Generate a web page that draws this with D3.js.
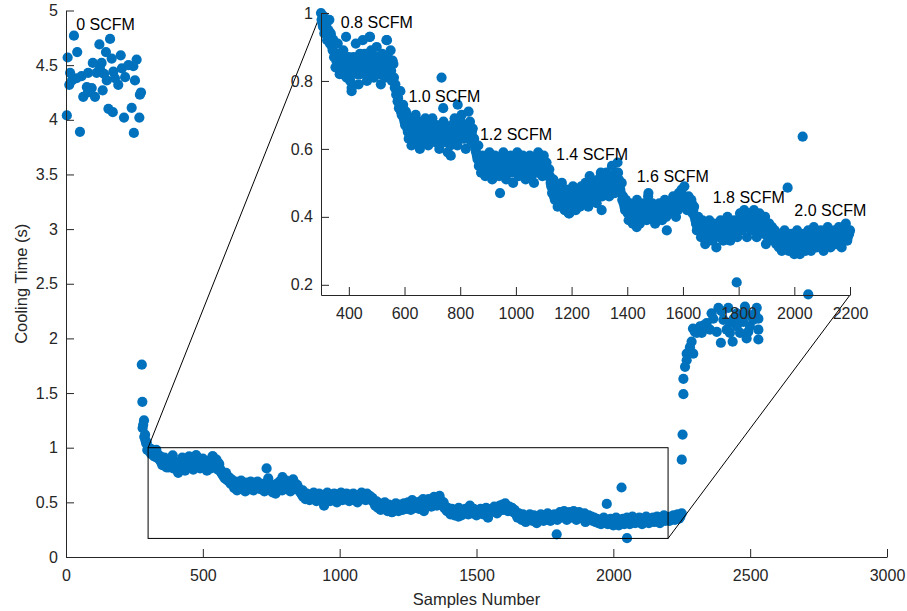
<!DOCTYPE html>
<html>
<head>
<meta charset="utf-8">
<script src="https://cdn.jsdelivr.net/npm/d3@7"></script>
<style>
    body { margin: 0; background: #fff; }
    svg text { font-family: "Liberation Sans", Arial, Helvetica, sans-serif; }
    .axis path, .axis line { stroke: #262626; stroke-width: 1; }
    .axis text { fill: #262626; font-size: 16px; }
    .label { fill: #262626; font-size: 16.5px; }
    .note { fill: #000; font-size: 16px; }
</style>
</head>
<body>
<svg id="chart" width="907" height="611"></svg>
<script>
// 0 SCFM (compressor off) samples
var offX = [29, 6, 41, 122, 161, 146, 167, 200, 258, 98, 130, 15, 12, 39, 57, 81, 112, 139, 173, 204,
            228, 246, 216, 252, 191, 76, 94, 63, 106, 134, 270, 155, 171, 240, 212, 268, 3, 51, 248, 179,
            149, 22, 124, 80, 274];
var offY = [4.77, 4.57, 4.62, 4.69, 4.74, 4.62, 4.56, 4.59, 4.55, 4.52, 4.52, 4.43, 4.32, 4.38, 4.40, 4.43, 4.43, 4.42, 4.44, 4.47,
            4.50, 4.49, 4.39, 4.36, 4.32, 4.30, 4.29, 4.21, 4.21, 4.27, 4.23, 4.10, 4.07, 4.11, 4.02, 4.02, 4.04, 3.89, 3.88, 4.38,
            4.36, 4.36, 4.47, 4.25, 4.25];

// air switched on
var rampX = [277, 279, 280, 282, 285, 286, 289, 290, 293, 295, 297];
var rampY = [1.76, 1.42, 1.18, 1.21, 1.25, 1.10, 1.12, 1.07, 1.04, 1.05, 0.98];

// sample 300 .. 2250, every 5th sample
var bandStart = 300;
var bandStep = 5;
var bandY = [
    1.00, 0.97, 0.99, 0.95, 0.97, 0.93, 0.98, 0.94, 0.90, 0.92, // 300
    0.88, 0.86, 0.91, 0.84, 0.87, 0.82, 0.89, 0.85, 0.93, 0.83, // 350
    0.87, 0.80, 0.78, 0.86, 0.84, 0.91, 0.82, 0.79, 0.88, 0.85, // 400
    0.92, 0.83, 0.87, 0.80, 0.85, 0.93, 0.89, 0.84, 0.81, 0.87, // 450
    0.90, 0.83, 0.86, 0.79, 0.88, 0.84, 0.81, 0.92, 0.87, 0.83, // 500
    0.89, 0.80, 0.85, 0.78, 0.76, 0.74, 0.72, 0.77, 0.70, 0.73, // 550
    0.68, 0.71, 0.66, 0.63, 0.69, 0.61, 0.67, 0.64, 0.70, 0.62, // 600
    0.66, 0.60, 0.68, 0.64, 0.62, 0.69, 0.65, 0.61, 0.67, 0.63, // 650
    0.69, 0.65, 0.62, 0.67, 0.64, 0.60, 0.66, 0.63, 0.68, 0.62, // 700
    0.65, 0.59, 0.64, 0.61, 0.67, 0.63, 0.69, 0.65, 0.61, 0.68, // 750
    0.66, 0.70, 0.63, 0.67, 0.60, 0.65, 0.71, 0.68, 0.62, 0.66, // 800
    0.63, 0.60, 0.58, 0.61, 0.56, 0.53, 0.58, 0.55, 0.52, 0.57, // 850
    0.54, 0.59, 0.56, 0.51, 0.55, 0.58, 0.53, 0.56, 0.52, 0.57, // 900
    0.54, 0.59, 0.55, 0.51, 0.56, 0.53, 0.58, 0.55, 0.50, 0.57, // 950
    0.54, 0.59, 0.52, 0.56, 0.53, 0.58, 0.55, 0.51, 0.57, 0.54, // 1000
    0.58, 0.52, 0.55, 0.50, 0.56, 0.53, 0.59, 0.55, 0.57, 0.52, // 1050
    0.58, 0.54, 0.56, 0.52, 0.54, 0.50, 0.47, 0.51, 0.45, 0.49, // 1100
    0.43, 0.47, 0.44, 0.50, 0.46, 0.42, 0.48, 0.45, 0.41, 0.47, // 1150
    0.44, 0.49, 0.45, 0.42, 0.48, 0.46, 0.43, 0.49, 0.47, 0.44, // 1200
    0.50, 0.46, 0.43, 0.52, 0.48, 0.45, 0.50, 0.47, 0.44, 0.51, // 1250
    0.48, 0.53, 0.46, 0.50, 0.47, 0.53, 0.49, 0.46, 0.52, 0.55, // 1300
    0.50, 0.47, 0.53, 0.56, 0.51, 0.48, 0.50, 0.46, 0.43, 0.45, // 1350
    0.42, 0.39, 0.44, 0.41, 0.38, 0.43, 0.40, 0.45, 0.41, 0.38, // 1400
    0.43, 0.40, 0.44, 0.41, 0.39, 0.46, 0.42, 0.40, 0.44, 0.41, // 1450
    0.38, 0.43, 0.40, 0.44, 0.41, 0.39, 0.42, 0.45, 0.40, 0.43, // 1500
    0.41, 0.44, 0.42, 0.46, 0.43, 0.40, 0.45, 0.47, 0.43, 0.48, // 1550
    0.44, 0.49, 0.45, 0.42, 0.46, 0.43, 0.45, 0.41, 0.43, 0.39, // 1600
    0.36, 0.40, 0.37, 0.34, 0.39, 0.35, 0.32, 0.37, 0.34, 0.39, // 1650
    0.36, 0.33, 0.38, 0.35, 0.31, 0.37, 0.34, 0.39, 0.36, 0.33, // 1700
    0.38, 0.35, 0.40, 0.36, 0.33, 0.38, 0.35, 0.39, 0.36, 0.34, // 1750
    0.38, 0.41, 0.36, 0.39, 0.42, 0.37, 0.34, 0.39, 0.41, 0.36, // 1800
    0.38, 0.42, 0.37, 0.34, 0.39, 0.41, 0.36, 0.38, 0.35, 0.40, // 1850
    0.37, 0.34, 0.38, 0.35, 0.37, 0.33, 0.36, 0.32, 0.35, 0.31, // 1900
    0.34, 0.30, 0.33, 0.36, 0.31, 0.34, 0.30, 0.32, 0.35, 0.31, // 1950
    0.29, 0.33, 0.36, 0.31, 0.29, 0.34, 0.32, 0.35, 0.30, 0.33, // 2000
    0.36, 0.32, 0.30, 0.34, 0.37, 0.33, 0.31, 0.35, 0.32, 0.36, // 2050
    0.33, 0.30, 0.35, 0.32, 0.37, 0.34, 0.31, 0.35, 0.33, 0.36, // 2100
    0.32, 0.35, 0.37, 0.33, 0.31, 0.36, 0.34, 0.38, 0.33, 0.35, // 2150
    0.36, 0.33, 0.37, 0.35, 0.38, 0.34, 0.36, 0.39, 0.35, 0.37, // 2200
    0.40
];

// in-between samples 302 .. 2242, every 5th sample
var band2Start = 302;
var band2Y = [
    0.98, 0.96, 0.94, 0.96, 0.92, 0.95, 0.91, 0.93, 0.89, 0.87, // 302
    0.84, 0.88, 0.85, 0.82, 0.86, 0.83, 0.87, 0.84, 0.81, 0.86, // 352
    0.83, 0.85, 0.82, 0.87, 0.84, 0.86, 0.83, 0.85, 0.82, 0.87, // 402
    0.85, 0.88, 0.84, 0.86, 0.82, 0.87, 0.85, 0.83, 0.86, 0.84, // 452
    0.87, 0.85, 0.82, 0.86, 0.84, 0.87, 0.85, 0.83, 0.86, 0.84, // 502
    0.83, 0.86, 0.81, 0.79, 0.77, 0.75, 0.73, 0.71, 0.72, 0.69, // 552
    0.67, 0.70, 0.65, 0.68, 0.64, 0.66, 0.63, 0.67, 0.65, 0.68, // 602
    0.64, 0.66, 0.63, 0.67, 0.65, 0.62, 0.66, 0.64, 0.68, 0.65, // 652
    0.63, 0.67, 0.65, 0.62, 0.66, 0.64, 0.67, 0.63, 0.65, 0.66, // 702
    0.62, 0.66, 0.64, 0.63, 0.66, 0.65, 0.63, 0.67, 0.64, 0.66, // 752
    0.68, 0.64, 0.66, 0.63, 0.67, 0.64, 0.66, 0.64, 0.65, 0.63, // 802
    0.61, 0.59, 0.57, 0.55, 0.57, 0.55, 0.56, 0.54, 0.56, 0.55, // 852
    0.57, 0.55, 0.53, 0.56, 0.54, 0.56, 0.55, 0.53, 0.55, 0.54, // 902
    0.56, 0.55, 0.53, 0.57, 0.54, 0.55, 0.56, 0.53, 0.55, 0.54, // 952
    0.56, 0.55, 0.54, 0.57, 0.55, 0.56, 0.53, 0.55, 0.54, 0.56, // 1002
    0.55, 0.54, 0.53, 0.55, 0.54, 0.57, 0.53, 0.56, 0.54, 0.55, // 1052
    0.56, 0.55, 0.53, 0.54, 0.52, 0.49, 0.48, 0.46, 0.47, 0.45, // 1102
    0.46, 0.45, 0.47, 0.44, 0.46, 0.45, 0.43, 0.46, 0.44, 0.45, // 1152
    0.46, 0.44, 0.47, 0.45, 0.44, 0.46, 0.45, 0.47, 0.45, 0.46, // 1202
    0.47, 0.45, 0.48, 0.46, 0.47, 0.48, 0.46, 0.49, 0.47, 0.48, // 1252
    0.50, 0.48, 0.49, 0.51, 0.49, 0.50, 0.48, 0.51, 0.50, 0.52, // 1302
    0.49, 0.51, 0.50, 0.53, 0.49, 0.47, 0.45, 0.44, 0.42, 0.43, // 1352
    0.41, 0.42, 0.40, 0.43, 0.41, 0.42, 0.40, 0.42, 0.43, 0.41, // 1402
    0.42, 0.41, 0.43, 0.42, 0.40, 0.42, 0.41, 0.43, 0.42, 0.40, // 1452
    0.41, 0.42, 0.43, 0.41, 0.42, 0.41, 0.43, 0.42, 0.41, 0.42, // 1502
    0.43, 0.42, 0.44, 0.42, 0.43, 0.44, 0.42, 0.44, 0.45, 0.43, // 1552
    0.46, 0.44, 0.43, 0.45, 0.44, 0.42, 0.44, 0.42, 0.40, 0.38, // 1602
    0.37, 0.38, 0.36, 0.35, 0.37, 0.36, 0.34, 0.36, 0.35, 0.37, // 1652
    0.35, 0.36, 0.34, 0.36, 0.35, 0.37, 0.36, 0.35, 0.37, 0.35, // 1702
    0.36, 0.37, 0.35, 0.37, 0.36, 0.36, 0.37, 0.36, 0.38, 0.37, // 1752
    0.39, 0.37, 0.38, 0.40, 0.38, 0.37, 0.39, 0.38, 0.37, 0.39, // 1802
    0.40, 0.38, 0.36, 0.38, 0.39, 0.37, 0.38, 0.36, 0.37, 0.36, // 1852
    0.35, 0.36, 0.37, 0.35, 0.34, 0.35, 0.34, 0.33, 0.33, 0.32, // 1902
    0.33, 0.32, 0.34, 0.33, 0.32, 0.33, 0.31, 0.33, 0.32, 0.33, // 1952
    0.31, 0.32, 0.34, 0.33, 0.31, 0.32, 0.33, 0.34, 0.32, 0.33, // 2002
    0.34, 0.33, 0.32, 0.34, 0.35, 0.33, 0.34, 0.33, 0.34, 0.35, // 2052
    0.34, 0.33, 0.35, 0.34, 0.33, 0.35, 0.34, 0.33, 0.35, 0.34, // 2102
    0.33, 0.35, 0.34, 0.33, 0.35, 0.34, 0.36, 0.35, 0.34, 0.35, // 2152
    0.35, 0.34, 0.36, 0.35, 0.37, 0.36, 0.35, 0.37, 0.36        // 2202
];

// stray readings
var strayX = [410, 476, 537, 733, 739, 791, 766, 943, 1192, 1308, 1434, 1476, 1542, 1793, 1898, 1976, 2030, 2050];
var strayY = [0.77, 0.93, 0.92, 0.81, 0.72, 0.73, 0.58, 0.47, 0.41, 0.42, 0.37, 0.47, 0.36, 0.207, 0.32, 0.486, 0.636, 0.172];

// air switched off again
var riseX = [2250, 2253, 2256, 2256, 2262, 2268, 2268, 2280, 2292, 2286, 2298, 2291, 2317, 2341, 2365, 2384, 2420, 2481,
             2524, 2530, 2530, 2530, 2487, 2436, 2393, 2378, 2414, 2451, 2475, 2499, 2511, 2493, 2463, 2426, 2353, 2323,
             2305, 2451, 2499, 2359, 2518, 2463, 2402, 2426, 2481, 2330, 2440, 2395];
var riseY = [0.89, 1.12, 1.49, 1.63, 1.74, 1.80, 1.86, 1.92, 1.86, 1.97, 2.06, 2.09, 2.11, 2.14, 2.18, 2.28, 2.28, 2.29,
             2.28, 2.18, 2.08, 1.99, 2.00, 1.97, 1.96, 2.06, 2.08, 2.11, 2.15, 2.11, 2.17, 2.06, 2.05, 2.05, 2.08, 2.05,
             2.05, 2.23, 2.21, 2.23, 2.23, 2.17, 2.17, 2.14, 2.23, 2.12, 2.18, 2.25];

var mainXTicks = [0, 500, 1000, 1500, 2000, 2500, 3000];
var mainYTicks = [0, 0.5, 1, 1.5, 2, 2.5, 3, 3.5, 4, 4.5, 5];
var zoomXTicks = [400, 600, 800, 1000, 1200, 1400, 1600, 1800, 2000, 2200];
var zoomYTicks = [0.2, 0.4, 0.6, 0.8, 1];

var zoomXRange = [300, 2200];
var zoomYRange = [0.17, 1];

var mainNotes = [{text: "0 SCFM", x: 37, y: 4.87}];
var zoomNotes = [
    {text: "0.8 SCFM", x: 371, y: 0.971},
    {text: "1.0 SCFM", x: 614, y: 0.755},
    {text: "1.2 SCFM", x: 871, y: 0.642},
    {text: "1.4 SCFM", x: 1144, y: 0.585},
    {text: "1.6 SCFM", x: 1434, y: 0.518},
    {text: "1.8 SCFM", x: 1707, y: 0.456},
    {text: "2.0 SCFM", x: 2000, y: 0.419}
];

function collectPoints() {
    var pts = [];
    offX.forEach(function(x, i) { pts.push({x: x, y: offY[i]}); });
    rampX.forEach(function(x, i) { pts.push({x: x, y: rampY[i]}); });
    bandY.forEach(function(y, i) { pts.push({x: bandStart + i * bandStep, y: y}); });
    band2Y.forEach(function(y, i) { pts.push({x: band2Start + i * bandStep, y: y}); });
    strayX.forEach(function(x, i) { pts.push({x: x, y: strayY[i]}); });
    riseX.forEach(function(x, i) { pts.push({x: x, y: riseY[i]}); });
    return pts;
}

function drawAxes(g, x, y, xTicks, yTicks) {
    var fmt = d3.format("~g");
    g.append("g")
        .attr("class", "axis")
        .attr("transform", "translate(0," + y.range()[0] + ")")
        .call(d3.axisBottom(x).tickValues(xTicks).tickFormat(fmt)
            .tickSizeInner(-8).tickSizeOuter(0).tickPadding(13));
    g.append("g")
        .attr("class", "axis")
        .attr("transform", "translate(" + x.range()[0] + ",0)")
        .call(d3.axisLeft(y).tickValues(yTicks).tickFormat(fmt)
            .tickSizeInner(-8).tickSizeOuter(0).tickPadding(8));
}

function init() {
    var svg = d3.select("#chart");
    var data = collectPoints();

    var x = d3.scaleLinear().domain([0, 3000]).range([66, 887]);
    var y = d3.scaleLinear().domain([0, 5]).range([557, 10.5]);

    var xz = d3.scaleLinear().domain(zoomXRange).range([321, 850]);
    var yz = d3.scaleLinear().domain(zoomYRange).range([295, 13]);

    var main = svg.append("g").attr("class", "main");

    main.selectAll("circle")
        .data(data)
        .enter()
        .append("circle")
        .attr("cx", function(d) { return x(d.x); })
        .attr("cy", function(d) { return y(d.y); })
        .attr("r", 5.1)
        .style("fill", "#0072BD");

    drawAxes(main, x, y, mainXTicks, mainYTicks);

    main.selectAll("text.note")
        .data(mainNotes)
        .enter()
        .append("text")
        .attr("class", "note")
        .attr("x", function(d) { return x(d.x); })
        .attr("y", function(d) { return y(d.y); })
        .attr("dy", "0.35em")
        .text(function(d) { return d.text; });

    main.append("text")
        .attr("class", "label")
        .attr("text-anchor", "middle")
        .attr("x", (x.range()[0] + x.range()[1]) / 2)
        .attr("y", 605)
        .text("Samples Number");

    main.append("text")
        .attr("class", "label")
        .attr("text-anchor", "middle")
        .attr("transform", "translate(27," + (y.range()[0] + y.range()[1]) / 2 + ") rotate(-90)")
        .text("Cooling Time (s)");

    // zoom box and the two lead lines to the inset
    main.append("rect")
        .attr("x", x(zoomXRange[0]))
        .attr("y", y(zoomYRange[1]))
        .attr("width", x(zoomXRange[1]) - x(zoomXRange[0]))
        .attr("height", y(zoomYRange[0]) - y(zoomYRange[1]))
        .style("fill", "none")
        .style("stroke", "#000")
        .style("stroke-width", 1);

    var leads = [
        [x(zoomXRange[0]), y(zoomYRange[1]), xz(zoomXRange[0]), yz(zoomYRange[1])],
        [x(zoomXRange[1]), y(zoomYRange[0]), xz(zoomXRange[1]), yz(zoomYRange[0])]
    ];
    main.selectAll("line.lead")
        .data(leads)
        .enter()
        .append("line")
        .attr("class", "lead")
        .attr("x1", function(d) { return d[0]; })
        .attr("y1", function(d) { return d[1]; })
        .attr("x2", function(d) { return d[2]; })
        .attr("y2", function(d) { return d[3]; })
        .style("stroke", "#000")
        .style("stroke-width", 1);

    // inset
    var inset = svg.append("g").attr("class", "inset");
    var inside = data.filter(function(d) {
        return d.x >= zoomXRange[0] && d.x <= zoomXRange[1] && d.y >= zoomYRange[0] && d.y <= zoomYRange[1];
    });

    inset.selectAll("circle")
        .data(inside)
        .enter()
        .append("circle")
        .attr("cx", function(d) { return xz(d.x); })
        .attr("cy", function(d) { return yz(d.y); })
        .attr("r", 5.1)
        .style("fill", "#0072BD");

    drawAxes(inset, xz, yz, zoomXTicks, zoomYTicks);

    inset.selectAll("text.note")
        .data(zoomNotes)
        .enter()
        .append("text")
        .attr("class", "note")
        .attr("x", function(d) { return xz(d.x); })
        .attr("y", function(d) { return yz(d.y); })
        .attr("dy", "0.35em")
        .text(function(d) { return d.text; });
}

init();
</script>
</body>
</html>
